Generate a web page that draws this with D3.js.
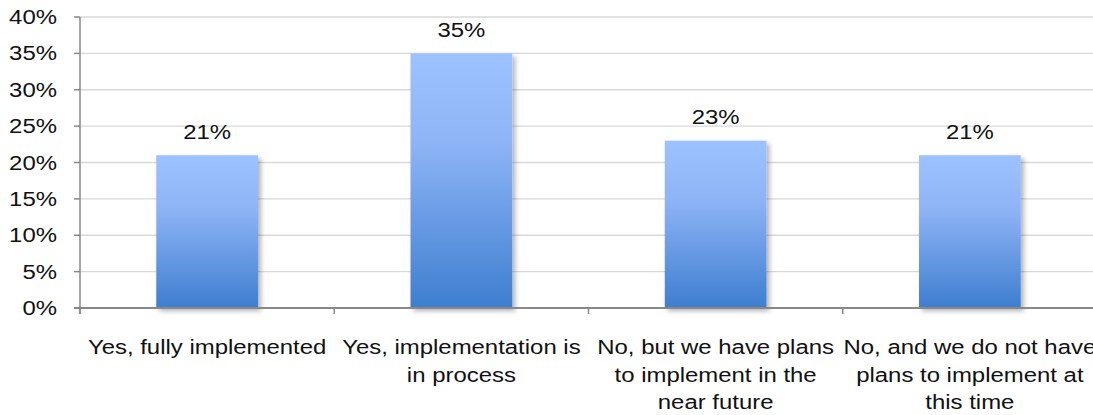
<!DOCTYPE html>
<html>
<head>
<meta charset="utf-8">
<script src="https://cdn.jsdelivr.net/npm/d3@7"></script>
<style>
  body { margin: 0; background: #fff; }
  svg { display: block; }
  text { font-family: "Liberation Sans", Arial, sans-serif; fill: #111; }
</style>
</head>
<body>
<div id="grafica"></div>
<script>
const categorias = [
  ["Yes, fully implemented"],
  ["Yes, implementation is", "in process"],
  ["No, but we have plans", "to implement in the", "near future"],
  ["No, and we do not have", "plans to implement at", "this time"]
];
const valores = [0.21, 0.35, 0.23, 0.21];
const ticksY = [0, 0.05, 0.10, 0.15, 0.20, 0.25, 0.30, 0.35, 0.40];

const W = 1093, H = 415;
const fs = 21, stretch = 1.14;

const svg = d3.select("#grafica").append("svg")
  .attr("width", W).attr("height", H);

const defs = svg.append("defs");
const grad = defs.append("linearGradient")
  .attr("id", "relleno").attr("x1", 0).attr("y1", 0).attr("x2", 0).attr("y2", 1);
grad.append("stop").attr("offset", 0).attr("stop-color", "#9CC2FF");
grad.append("stop").attr("offset", 0.35).attr("stop-color", "#8EB4F6");
grad.append("stop").attr("offset", 1).attr("stop-color", "#3E7ECF");

const sombra = defs.append("filter").attr("id", "sombra")
  .attr("x", "-10%").attr("y", "-10%").attr("width", "130%").attr("height", "130%");
sombra.append("feDropShadow")
  .attr("dx", 3).attr("dy", 3).attr("stdDeviation", 2.5)
  .attr("flood-color", "#000").attr("flood-opacity", 0.3);

const idx = d3.range(categorias.length);
const scx = d3.scaleBand(idx, [80, 1097]).paddingInner(0.6).paddingOuter(0.3);
const scy = d3.scaleLinear([0, 0.4], [308, 17]);

// texto estirado en horizontal
function texto(g, x, y, s, anchor) {
  g.append("text")
    .attr("transform", `translate(${x},${y}) scale(${stretch},1)`)
    .attr("text-anchor", anchor)
    .attr("font-size", fs)
    .text(s);
}

// rejilla
svg.append("g").selectAll("line")
  .data(ticksY.filter(d => d > 0))
  .join("line")
  .attr("x1", 80).attr("x2", W)
  .attr("y1", d => scy(d)).attr("y2", d => scy(d))
  .attr("stroke", "#D9D9D9").attr("stroke-width", 1.4);

// barras
svg.append("g").selectAll("rect")
  .data(valores)
  .join("rect")
  .attr("x", (d, i) => scx(i))
  .attr("y", d => scy(d))
  .attr("width", scx.bandwidth())
  .attr("height", d => scy(0) - scy(d))
  .attr("fill", "url(#relleno)")
  .attr("filter", "url(#sombra)");

// eje y
const ejeY = svg.append("g");
ejeY.append("line")
  .attr("x1", 80).attr("x2", 80).attr("y1", scy(0.4)).attr("y2", 314)
  .attr("stroke", "#888").attr("stroke-width", 1.5);
ejeY.selectAll(".tick")
  .data(ticksY)
  .join("line")
  .attr("class", "tick")
  .attr("x1", 74).attr("x2", 80)
  .attr("y1", d => scy(d)).attr("y2", d => scy(d))
  .attr("stroke", "#888").attr("stroke-width", 1.5);
ticksY.forEach(d => texto(ejeY, 57, scy(d) + 7, d3.format(".0%")(d), "end"));

// eje x
const ejeX = svg.append("g");
ejeX.append("line")
  .attr("x1", 74).attr("x2", W).attr("y1", scy(0)).attr("y2", scy(0))
  .attr("stroke", "#888").attr("stroke-width", 2);
const step = scx.step();
ejeX.selectAll(".tick")
  .data(d3.range(categorias.length + 1))
  .join("line")
  .attr("class", "tick")
  .attr("x1", i => 80 + i * step).attr("x2", i => 80 + i * step)
  .attr("y1", scy(0)).attr("y2", 314)
  .attr("stroke", "#888").attr("stroke-width", 1.5);

categorias.forEach((lineas, i) => {
  const cx = scx(i) + scx.bandwidth() / 2;
  lineas.forEach((s, j) => texto(ejeX, cx, 354 + j * 27.5, s, "middle"));
});

// etiquetas de valor
const etq = svg.append("g");
valores.forEach((d, i) => {
  texto(etq, scx(i) + scx.bandwidth() / 2, scy(d) - 16.5, d3.format(".0%")(d), "middle");
});
</script>
</body>
</html>
